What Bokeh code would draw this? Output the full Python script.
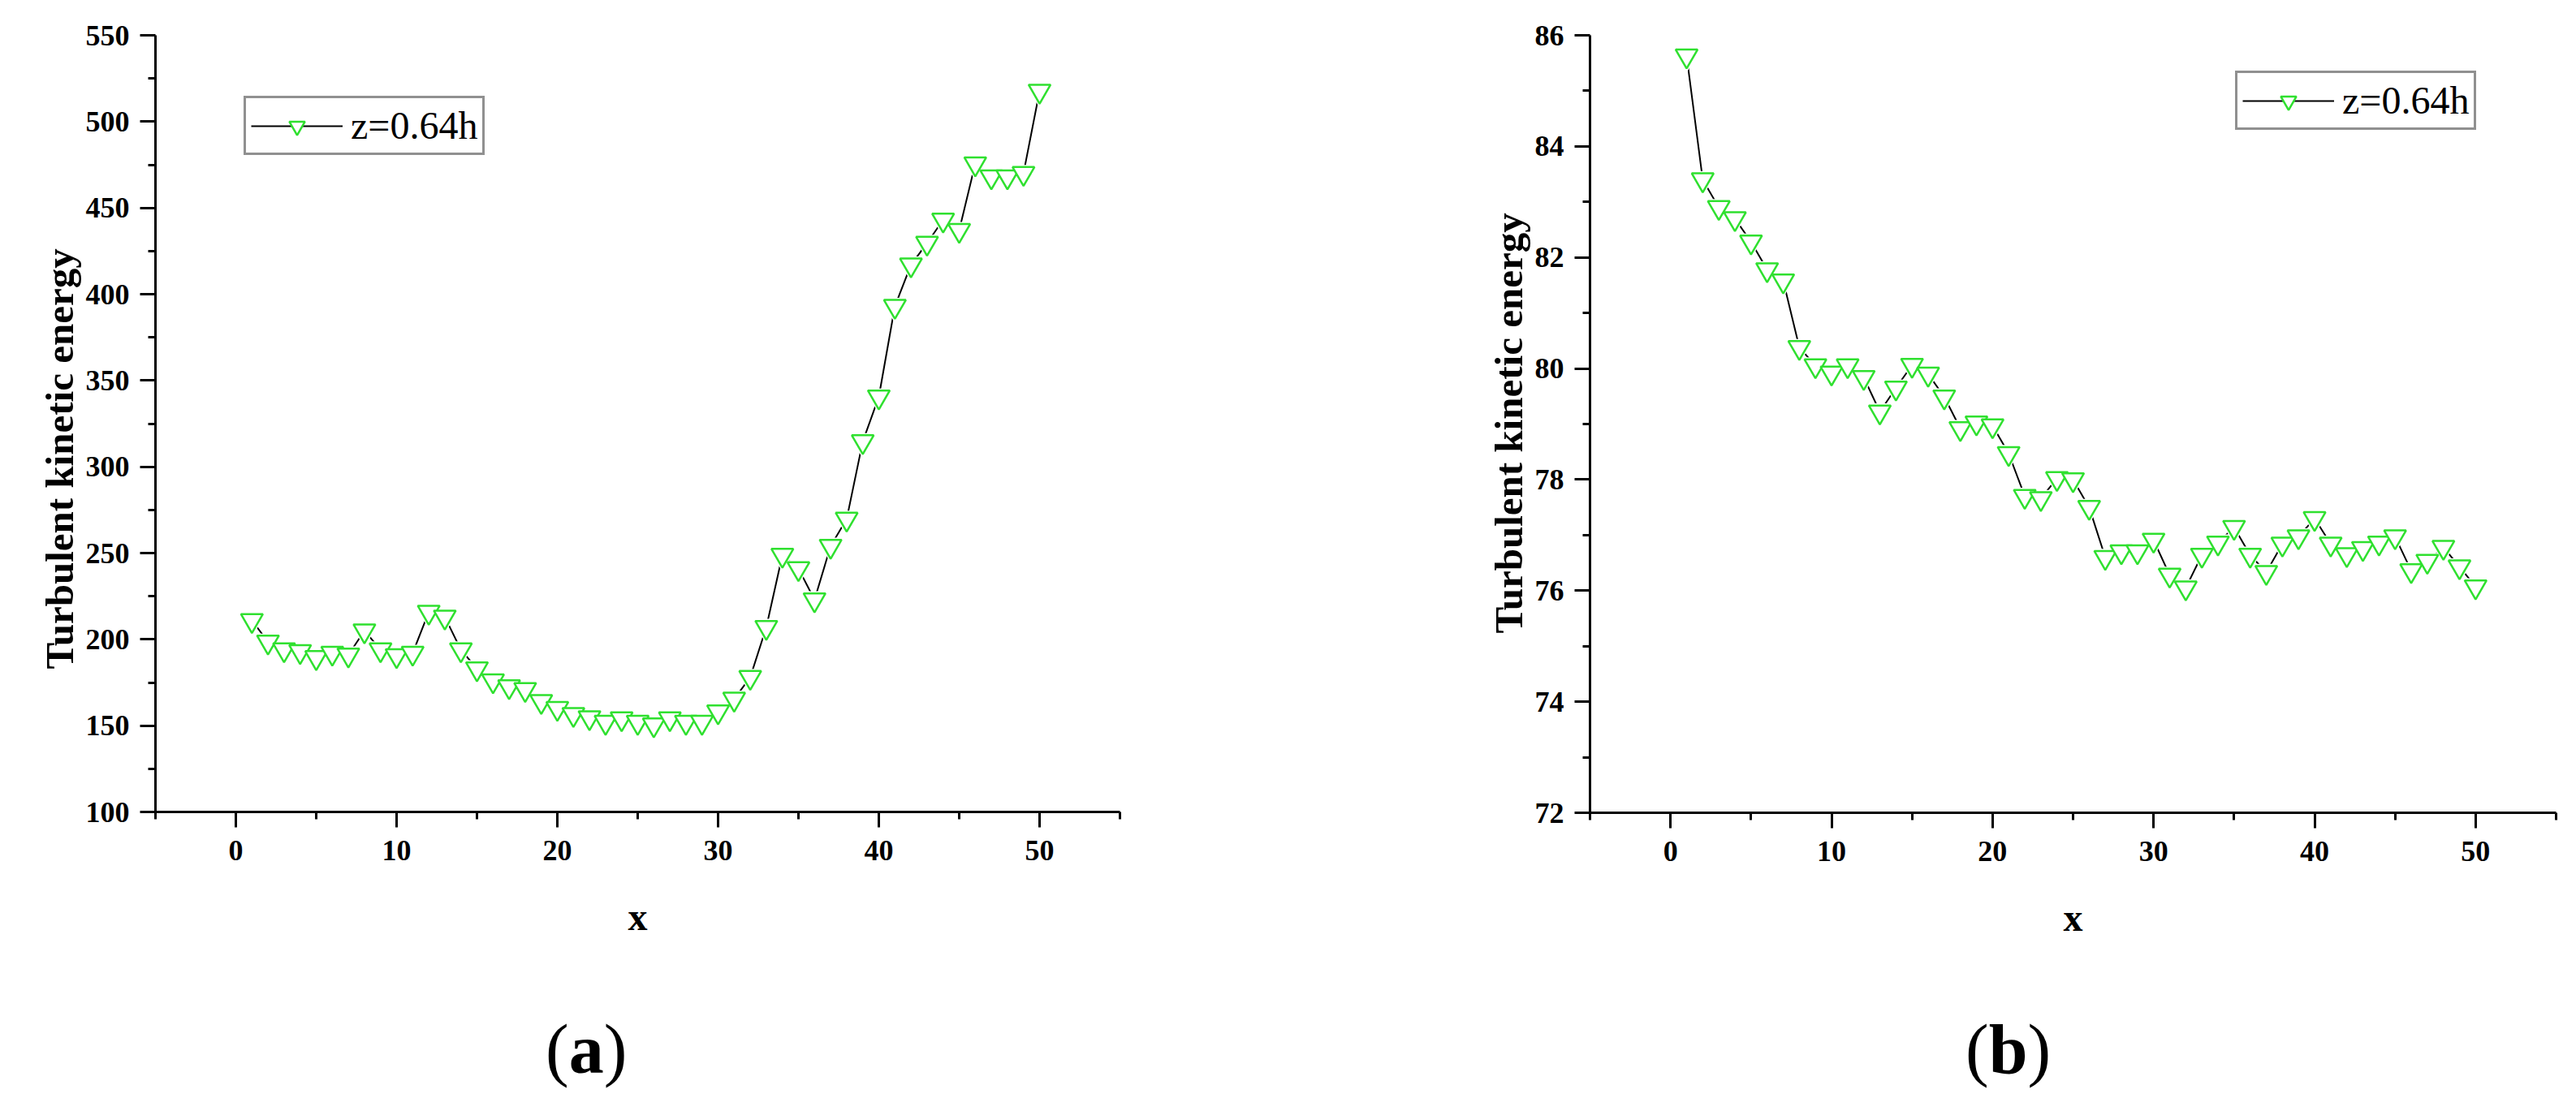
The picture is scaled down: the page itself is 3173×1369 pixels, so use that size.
from bokeh.plotting import figure
from bokeh.models import Range1d, FixedTicker, Legend, LegendItem, ColumnDataSource, Title, Div
from bokeh.layouts import row, column
from bokeh.embed import file_html
from bokeh.resources import INLINE

# ---------------- data ----------------
x_pos = list(range(1, 51))

tke_a = [211, 198.5, 194, 193, 189.5, 192, 191, 205, 194, 190.6,
         192, 215.8, 213, 194, 183, 176, 172.6, 171, 164, 160,
         156.5, 154.7, 152, 154, 152, 150.5, 154, 152, 152, 158,
         165.4, 178, 207, 248.8, 241, 223, 254, 269.7, 314.6, 340.5,
         393, 417, 429.6, 443, 437, 475.6, 468, 468, 470, 517.7]

tke_b = [85.63, 83.4, 82.9, 82.7, 82.28, 81.78, 81.58, 80.38, 80.05, 79.92,
         80.05, 79.84, 79.22, 79.65, 80.06, 79.9, 79.49, 78.92, 79.02, 78.97,
         78.47, 77.7, 77.66, 78.02, 78.0, 77.5, 76.6, 76.7, 76.7, 76.91,
         76.28, 76.05, 76.64, 76.86, 77.14, 76.64, 76.33, 76.84, 76.97, 77.3,
         76.84, 76.65, 76.76, 76.86, 76.97, 76.36, 76.53, 76.78, 76.43, 76.07]

x_major = [0, 10, 20, 30, 40, 50]
x_minor = [-5, 5, 15, 25, 35, 45, 55]
ya_major = [100, 150, 200, 250, 300, 350, 400, 450, 500, 550]
ya_minor = [125, 175, 225, 275, 325, 375, 425, 475, 525]
yb_major = [72, 74, 76, 78, 80, 82, 84, 86]
yb_minor = [73, 75, 77, 79, 81, 83, 85]

series_label = "z=0.64h"
x_title = "x"
y_title = "Turbulent kinetic energy"
panel_labels = ["a", "b"]

# ---------------- style ----------------
FONT = "Liberation Serif"
GREEN = "#2fe02f"
FIG_H = 1250


def make_panel(yvals, yr, ymaj, ymin, border_left, border_top, frame_w, frame_h,
               border_right, legend_loc, ytitle_offset):
    p = figure(frame_width=frame_w, frame_height=frame_h,
               min_border_left=border_left, min_border_top=border_top,
               min_border_right=border_right,
               min_border_bottom=FIG_H - border_top - frame_h,
               x_range=Range1d(-5, 55), y_range=Range1d(*yr),
               output_backend="svg", toolbar_location=None,
               background_fill_color="white", border_fill_color="white")
    p.outline_line_color = None
    p.grid.visible = False

    p.xaxis.ticker = FixedTicker(ticks=x_major, minor_ticks=x_minor)
    p.yaxis.ticker = FixedTicker(ticks=ymaj, minor_ticks=ymin)
    for ax in (p.xaxis[0], p.yaxis[0]):
        ax.axis_line_width = 3
        ax.axis_line_color = "black"
        ax.major_tick_line_width = 3
        ax.minor_tick_line_width = 3
        ax.major_tick_line_color = "black"
        ax.minor_tick_line_color = "black"
        ax.major_tick_out = 19
        ax.major_tick_in = 0
        ax.minor_tick_out = 9
        ax.minor_tick_in = 0
        ax.major_label_text_font = FONT
        ax.major_label_text_font_style = "bold"
        ax.major_label_text_font_size = "36px"
        ax.major_label_text_color = "black"
    p.xaxis.major_label_standoff = 16
    p.yaxis.major_label_standoff = 13

    p.xaxis.axis_label = x_title
    p.xaxis.axis_label_text_font = FONT
    p.xaxis.axis_label_text_font_style = "bold"
    p.xaxis.axis_label_text_font_size = "48px"
    p.xaxis.axis_label_text_color = "black"
    p.xaxis.axis_label_standoff = 40

    yt = Title(text=y_title, align="left", offset=ytitle_offset, standoff=4,
               text_font=FONT, text_font_style="bold", text_font_size="49px",
               text_color="black")
    p.add_layout(yt, "left")

    src = ColumnDataSource(dict(x=x_pos, y=yvals))
    line_r = p.line("x", "y", source=src, line_color="black", line_width=2)
    p.scatter("x", "y", source=src, marker="inverted_triangle", size=36,
              fill_color="white", line_color=None)
    mark_r = p.scatter("x", "y", source=src, marker="inverted_triangle", size=27,
                       fill_color="white", line_color=GREEN, line_width=2.5)

    legend = Legend(items=[LegendItem(label=series_label, renderers=[line_r, mark_r])],
                    location=legend_loc)
    legend.glyph_width = 113
    legend.glyph_height = 48
    legend.label_height = 48
    legend.label_standoff = 10
    legend.padding = 6
    legend.spacing = 0
    legend.margin = 0
    legend.label_text_font = FONT
    legend.label_text_font_size = "48px"
    legend.label_text_color = "black"
    legend.border_line_color = "#222222"
    legend.border_line_width = 3
    legend.background_fill_color = "white"
    legend.background_fill_alpha = 1.0
    p.add_layout(legend)
    return p


p1 = make_panel(tke_a, (100, 550), ya_major, ya_minor,
                border_left=191, border_top=43, frame_w=1188, frame_h=957,
                border_right=219, legend_loc=(109, 809), ytitle_offset=176)
p2 = make_panel(tke_b, (72, 86), yb_major, yb_minor,
                border_left=360, border_top=36, frame_w=1190, frame_h=958,
                border_right=10, legend_loc=(795, 841), ytitle_offset=221)

span = ('<span style="position:absolute;left:{left}px;top:0px;white-space:nowrap">'
        '(<b>{t}</b>)</span>')
captions_html = (
    '<div style="position:relative;width:3158px;height:110px;'
    'font-family:\'Liberation Serif\';font-size:86px;line-height:86px;color:black">'
    + span.format(left=672, t=panel_labels[0])
    + span.format(left=2421, t=panel_labels[1])
    + '</div>'
)
captions = Div(text=captions_html, width=3158, height=110, margin=(0, 0, 0, 0))

layout = column(row(p1, p2, spacing=0), captions, spacing=0)
open("out.html", "w").write(file_html(layout, INLINE))
